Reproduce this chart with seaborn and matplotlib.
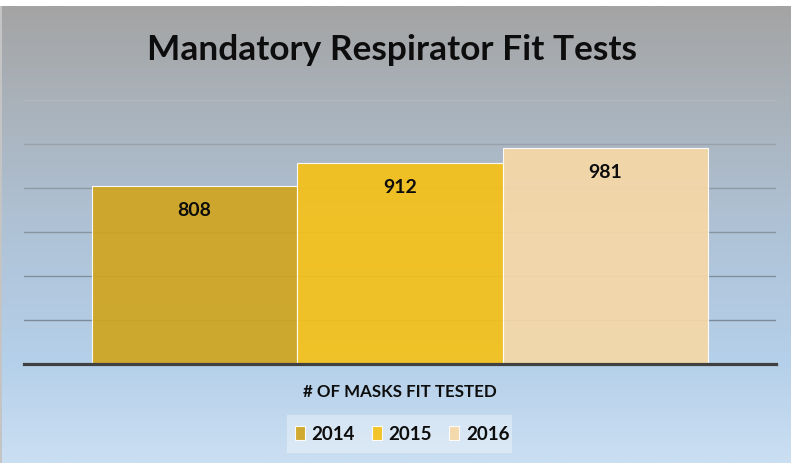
import numpy as np
import pandas as pd
import matplotlib
matplotlib.use("Agg")
import matplotlib.pyplot as plt
from matplotlib.colors import LinearSegmentedColormap
from matplotlib.patches import Rectangle
import seaborn as sns

# ---- data ----
categories = ["# OF MASKS FIT TESTED"]
years = ["2014", "2015", "2016"]
values = [808, 912, 981]
bar_colors = ["#D0A51F", "#F5C118", "#F6D8A6"]
title = "Mandatory Respirator Fit Tests"

df = pd.DataFrame({"metric": categories * len(years), "year": years, "value": values})

sns.set_theme(style="white")
plt.rcParams["font.family"] = ["Lato", "DejaVu Sans"]
plt.rcParams["font.weight"] = "bold"

W, H = 791, 463
fig = plt.figure(figsize=(W / 100, H / 100), dpi=100)
fig.patch.set_facecolor("white")

def fx(px):
    return px / W

def fy(py):
    return (H - py) / H

# gradient background
bg = fig.add_axes([fx(2), 0, 1 - fx(2), fy(6)])
bg.set_axis_off()
cmap = LinearSegmentedColormap.from_list(
    "bg",
    [(0.0, "#A4A4A4"), (0.2, "#A9B1B9"), (0.5, "#AFC3D7"), (0.78, "#B5D0EA"), (1.0, "#CBDFF2")],
)
grad = np.linspace(0, 1, 256).reshape(-1, 1)
bg.imshow(grad, aspect="auto", cmap=cmap, extent=[0, 1, 1, 0])
fig.add_artist(Rectangle((0, 0), fx(1.5), fy(6), transform=fig.transFigure,
                         facecolor="#C4C4C4", edgecolor="none"))

# main axes
left, right, top, bottom = 24, 776, 99.6, 364
ax = fig.add_axes([fx(left), fy(bottom), fx(right - left), (bottom - top) / H])
ax.set_facecolor("none")

sns.barplot(data=df, x="metric", y="value", hue="year", palette=bar_colors,
            width=0.82, gap=0, saturation=1, alpha=0.92,
            edgecolor=(1, 1, 1, 0.35), linewidth=0.8, ax=ax, zorder=3)

ax.set_ylim(0, 1200)
ax.set_xlim(-0.5, 0.5)
ax.set_yticks([200, 400, 600, 800, 1000, 1200])
ax.set_yticklabels([])
ax.tick_params(axis="y", length=0)
ax.tick_params(axis="x", length=0, pad=23.8, labelsize=13.5, labelcolor="#0D0D0D")
ax.set_xlabel("")
ax.set_ylabel("")
ax.set_axisbelow(True)
ax.yaxis.grid(True, linewidth=1.0)
grid_cols = ["#7B8B99", "#808F9C", "#8795A1", "#8F9AA5", "#99A2AB", "#B4B8BD"]
for gl, c in zip(ax.get_ygridlines(), grid_cols):
    gl.set_color(c)
for lbl in ax.get_xticklabels():
    lbl.set_va("baseline")
    lbl.set_fontweight("bold")

for s in ["top", "right", "left"]:
    ax.spines[s].set_visible(False)
ax.spines["bottom"].set_color("#404040")
ax.spines["bottom"].set_linewidth(2.3)
ax.spines["bottom"].set_zorder(5)

for cont in ax.containers:
    anns = ax.bar_label(cont, padding=-21.6, fontsize=14, fontweight="bold", color="#0D0D0D")
    for a in anns:
        a.set_va("baseline")

# legend
handles, labels = ax.get_legend_handles_labels()
if ax.get_legend() is not None:
    ax.get_legend().remove()
fig.add_artist(Rectangle((fx(287), fy(453)), fx(512 - 287), (453 - 415) / H,
                         transform=fig.transFigure, facecolor="white", alpha=0.35,
                         edgecolor="none"))
leg = fig.legend(handles, labels, loc="center", bbox_to_anchor=(fx(402), fy(434)),
                 ncol=3, frameon=False, fontsize=13.5, handlelength=0.55, handleheight=0.7,
                 handletextpad=0.35, columnspacing=0.9, borderaxespad=0)
for t in leg.get_texts():
    t.set_fontweight("bold")
    t.set_color("#0D0D0D")

# title
ttl = fig.text(fx(392), fy(60), title, ha="center", va="baseline",
               fontsize=25, fontweight="bold", color="#0D0D0D")

fig.canvas.draw()
w = ttl.get_window_extent().width
ttl.set_fontsize(25 * 490 / w)
xl = ax.get_xticklabels()[0]
w2 = xl.get_window_extent().width
ax.tick_params(axis="x", labelsize=13.5 * 193 / w2)

fig.savefig("out.png", dpi=100)
